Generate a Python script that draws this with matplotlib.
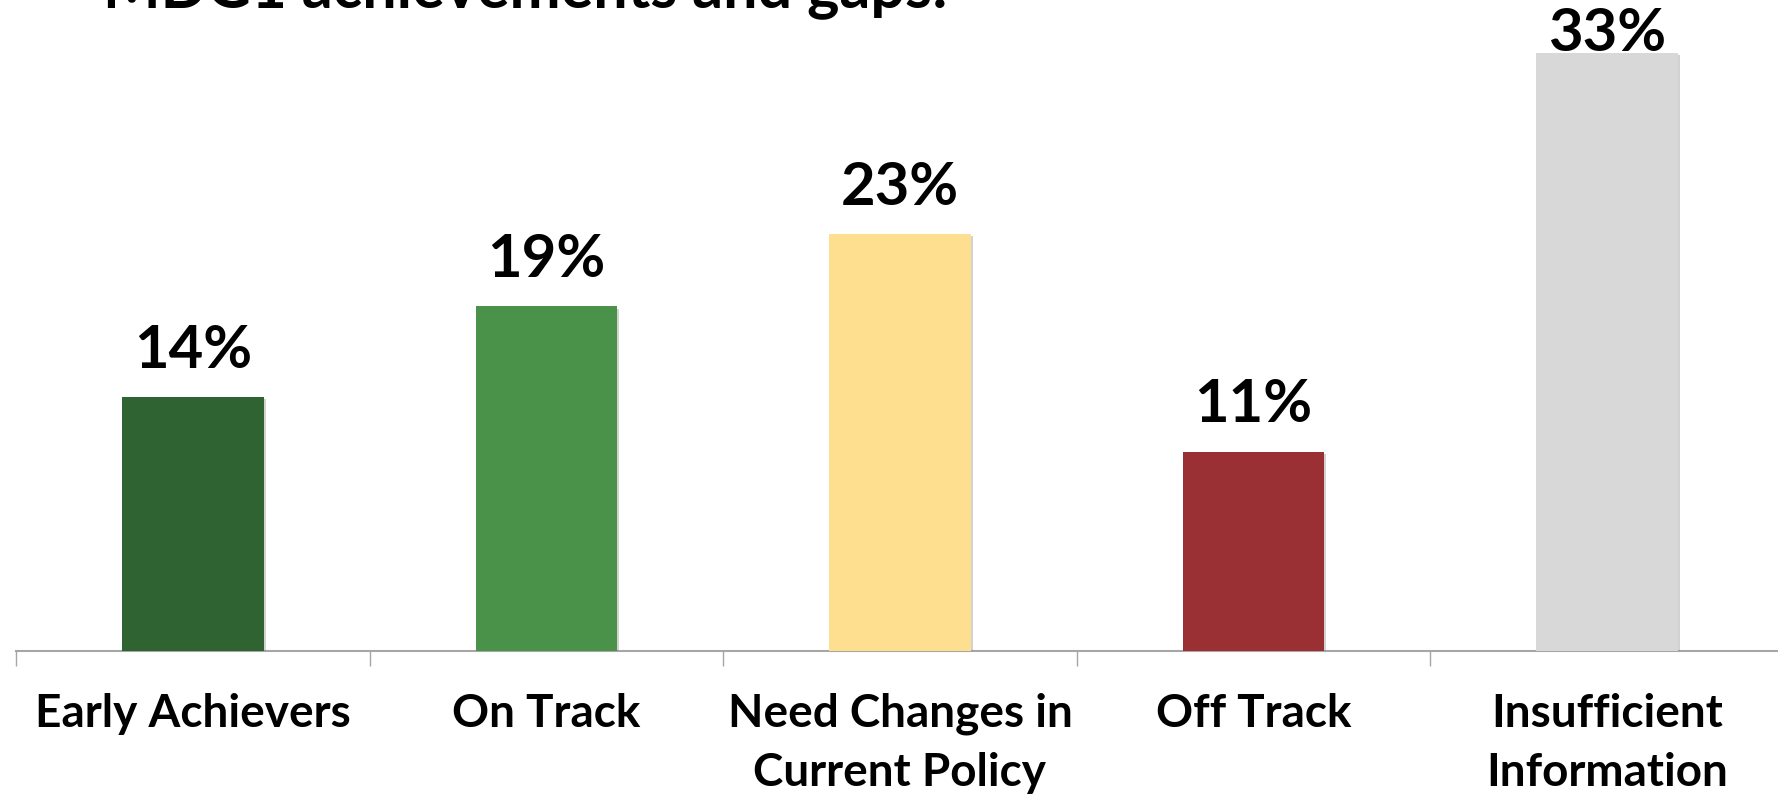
import matplotlib
matplotlib.use('Agg')
import matplotlib.pyplot as plt
import matplotlib.patheffects as pe

plt.rcParams['font.family'] = ['Lato', 'DejaVu Sans']

# data
categories = ['Early Achievers', 'On Track', 'Need Changes in\nCurrent Policy',
              'Off Track', 'Insufficient\nInformation']
shares = [14, 19, 23, 11, 33]
colors = ['#2F6332', '#4A9249', '#FDDF8F', '#9A3033', '#D8D8D8']
title = 'MDG1 achievements and gaps:'

W, H = 1778, 795
fig = plt.figure(figsize=(W / 100, H / 100), dpi=100)
ax = fig.add_axes([16 / W, (H - 651) / H, 1768 / W, 651 / H])

x = list(range(len(categories)))
bars = ax.bar(x, shares, width=0.40, color=colors, zorder=3)
for b in bars:
    b.set_path_effects([pe.SimplePatchShadow(offset=(1.5, -1.5), shadow_rgbFace='#808080', alpha=0.35),
                        pe.Normal()])

ymax = 35.9
ax.set_xlim(-0.5, len(categories) - 0.5)
ax.set_ylim(0, ymax)

# value labels, pushed inside when they would run past the top
for xi, v in zip(x, shares):
    if v + 3.2 > ymax - 2.0:
        ax.annotate('%d%%' % v, xy=(xi, 1.0), xycoords=('data', 'axes fraction'),
                    xytext=(0, -5), textcoords='offset points',
                    ha='center', va='top', fontsize=43, fontweight='bold', zorder=5)
    else:
        ax.annotate('%d%%' % v, xy=(xi, v), xytext=(0, 21), textcoords='offset points',
                    ha='center', va='baseline', fontsize=43, fontweight='bold', zorder=5)

for s in ['top', 'right', 'left']:
    ax.spines[s].set_visible(False)
ax.spines['bottom'].set_color('#A6A6A6')
ax.spines['bottom'].set_linewidth(1.5)
ax.set_yticks([])

ax.set_xticks([i - 0.5 for i in range(len(categories) + 1)])
ax.set_xticklabels([])
ax.tick_params(axis='x', which='major', length=11, width=1.0, color='#A6A6A6', direction='out')
ax.set_xticks(x, minor=True)
ax.set_xticklabels(categories, minor=True, fontsize=33, fontweight='bold', linespacing=1.5,
                   va='top')
ax.tick_params(axis='x', which='minor', length=0, pad=30)

fig.text(103 / W, 1 - 7 / H, title, ha='left', va='baseline', fontsize=44, fontweight='bold')

fig.savefig('out.png', dpi=100)
